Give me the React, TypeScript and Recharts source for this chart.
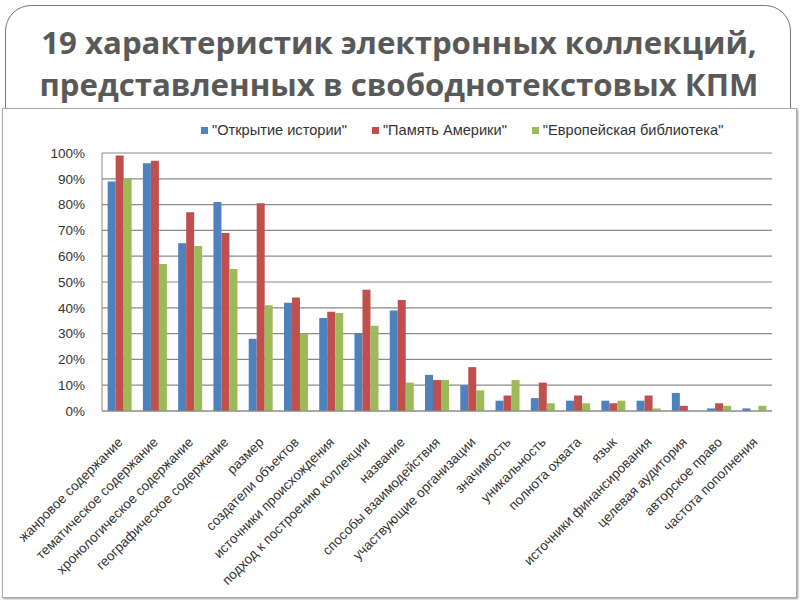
import React from "react";
import { BarChart, Bar, XAxis, YAxis, CartesianGrid, Legend } from "recharts";

const categories = [
  "жанровое  содержание",
  "тематическое содержание",
  "хронологическое  содержание",
  "географическое содержание",
  "размер",
  "создатели объектов",
  "источники происхождения",
  "подход к построению коллекции",
  "название",
  "способы взаимодействия",
  "участвующие организации",
  "значимость",
  "уникальность",
  "полнота охвата",
  "язык",
  "источники финансирования",
  "целевая аудитория",
  "авторское право",
  "частота пополнения",
];

const openHistory = [89, 96, 65, 81, 28, 42, 36, 30, 39, 14, 10, 4, 5, 4, 4, 4, 7, 1, 1];
const memoryAmerica = [99, 97, 77, 69, 80.5, 44, 38.5, 47, 43, 12, 17, 6, 11, 6, 3, 6, 2, 3, 0];
const europeana = [90, 57, 64, 55, 41, 30, 38, 33, 11, 12, 8, 12, 3, 3, 4, 1, 0, 2, 2];

const yTicks = [0, 10, 20, 30, 40, 50, 60, 70, 80, 90, 100];

const seriesNames = ['"Открытие истории"', '"Память Америки"', '"Европейская библиотека"'];
const colors = ["#4F81BD", "#C0504D", "#9BBB59"];

const data = categories.map((name, i) => ({
  name,
  a: openHistory[i],
  b: memoryAmerica[i],
  c: europeana[i],
}));

const font = "'Liberation Sans', Arial, sans-serif";

function XTick(props: any) {
  const { x, y, payload } = props;
  const ax = x + 4;
  const ay = y + 24;
  return (
    <text
      x={ax}
      y={ay}
      transform={`rotate(-45 ${ax} ${ay})`}
      textAnchor="end"
      fontSize={13.5}
      fontFamily={font}
      fill="#333"
    >
      {payload.value}
    </text>
  );
}

function LegendBox() {
  return (
    <div style={{ display: "flex", gap: 25, fontFamily: font, fontSize: 14.6, color: "#333", whiteSpace: "nowrap", height: 18, alignItems: "center" }}>
      {seriesNames.map((n, i) => (
        <div key={n} style={{ display: "flex", alignItems: "center" }}>
          <span style={{ width: 7, height: 7, background: colors[i], marginRight: 4, display: "inline-block" }} />
          {n}
        </div>
      ))}
    </div>
  );
}

export default function App() {
  return (
    <div style={{ position: "absolute", left: 0, top: 0, width: 800, height: 600, background: "#fff", overflow: "hidden" }}>
      <div
        style={{
          position: "absolute",
          left: 5,
          top: 5,
          width: 786,
          height: 140,
          border: "1.5px solid #777",
          borderRadius: 26,
          boxSizing: "border-box",
        }}
      />
      <div
        style={{
          position: "absolute",
          left: 0,
          top: 21,
          width: 798,
          textAlign: "center",
          fontFamily: "'Open Sans', sans-serif",
          fontWeight: 700,
          fontSize: 31.2,
          lineHeight: "42px",
          color: "#595959",
        }}
      >
        19 характеристик электронных коллекций,
        <br />
        представленных в свободнотекстовых КПМ
      </div>
      <div
        style={{
          position: "absolute",
          left: 2,
          top: 108,
          width: 795,
          height: 490,
          border: "1px solid #aaa",
          boxShadow: "1px 1px 2px #999",
          background: "#fff",
          boxSizing: "border-box",
        }}
      />
      <div style={{ position: "absolute", left: 0, top: 0 }}>
        <BarChart
          width={800}
          height={600}
          data={data}
          margin={{ top: 135, right: 28, left: 42, bottom: 9 }}
          barCategoryGap="16%"
          barGap={0}
        >
          <CartesianGrid vertical={false} stroke="#8a8a8a" strokeWidth={1.2} />
          <XAxis
            dataKey="name"
            interval={0}
            height={180}
            tick={<XTick />}
            tickLine={false}
            axisLine={{ stroke: "#8a8a8a" }}
          />
          <YAxis
            width={60}
            domain={[0, 100]}
            ticks={yTicks}
            tickFormatter={(v) => `${v}%`}
            tickLine={false}
            tickMargin={11}
            axisLine={{ stroke: "#8a8a8a" }}
            tick={{ fontSize: 13.5, fill: "#333", fontFamily: font }}
          />
          <Legend
            verticalAlign="top"
            content={<LegendBox />}
            wrapperStyle={{ top: 121, left: 201, width: 590, height: 18 }}
          />
          <Bar dataKey="a" name={seriesNames[0]} fill={colors[0]} isAnimationActive={false} />
          <Bar dataKey="b" name={seriesNames[1]} fill={colors[1]} isAnimationActive={false} />
          <Bar dataKey="c" name={seriesNames[2]} fill={colors[2]} isAnimationActive={false} />
        </BarChart>
      </div>
    </div>
  );
}
